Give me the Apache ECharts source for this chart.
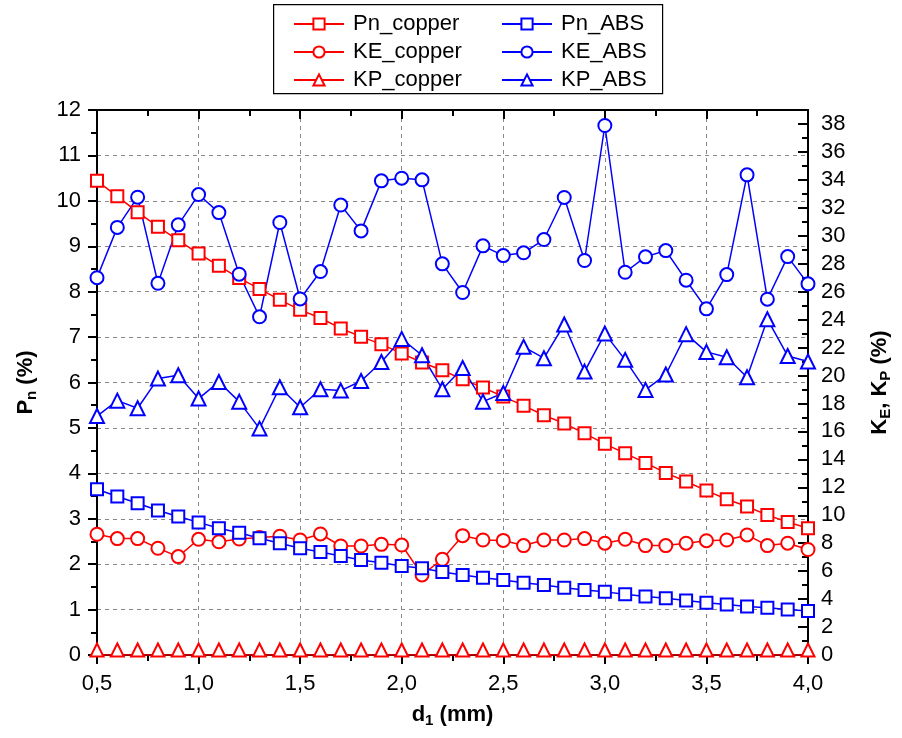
<!DOCTYPE html>
<html>
<head>
<meta charset="utf-8">
<script src="https://cdn.jsdelivr.net/npm/echarts@6/dist/echarts.min.js"></script>
<style>
html,body{margin:0;padding:0;background:#fff;}
#chart{width:902px;height:738px;}
</style>
</head>
<body>
<div id="chart"></div>
<script>
var dValues = [0.5,0.6,0.7,0.8,0.9,1.0,1.1,1.2,1.3,1.4,1.5,1.6,1.7,1.8,1.9,2.0,2.1,2.2,2.3,2.4,2.5,2.6,2.7,2.8,2.9,3.0,3.1,3.2,3.3,3.4,3.5,3.6,3.7,3.8,3.9,4.0];

var pnCopper = [10.44,10.10,9.75,9.43,9.13,8.84,8.57,8.30,8.06,7.82,7.60,7.42,7.19,7.01,6.84,6.64,6.44,6.27,6.07,5.89,5.69,5.49,5.28,5.10,4.88,4.65,4.44,4.23,4.01,3.82,3.62,3.43,3.27,3.08,2.93,2.79];
var keCopper = [8.64,8.33,8.33,7.64,7.04,8.28,8.10,8.30,8.40,8.50,8.23,8.66,7.80,7.80,7.92,7.87,5.73,6.85,8.54,8.23,8.20,7.83,8.23,8.23,8.33,8.00,8.28,7.83,7.83,8.00,8.18,8.23,8.59,7.83,8.00,7.55];
var kpCopper = [0,0,0,0,0,0,0,0,0,0,0,0,0,0,0,0,0,0,0,0,0,0,0,0,0,0,0,0,0,0,0,0,0,0,0,0];
var pnABS = [3.65,3.49,3.34,3.18,3.05,2.92,2.79,2.69,2.57,2.46,2.35,2.27,2.18,2.09,2.03,1.96,1.91,1.83,1.76,1.70,1.65,1.59,1.54,1.48,1.43,1.39,1.34,1.29,1.25,1.20,1.15,1.11,1.07,1.04,1.00,0.97];
var keABS = [27.0,30.6,32.76,26.6,30.78,32.95,31.66,27.25,24.2,30.95,25.48,27.44,32.2,30.35,33.93,34.12,34.0,27.99,25.94,29.28,28.58,28.78,29.73,32.74,28.23,37.89,27.39,28.49,28.94,26.82,24.77,27.22,34.36,25.46,28.51,26.56];
var kpABS = [17.1,18.2,17.66,19.78,20.02,18.35,19.54,18.13,16.2,19.16,17.73,19.02,18.92,19.61,20.97,22.62,21.45,19.02,20.54,18.13,18.75,22.05,21.24,23.65,20.28,23.0,21.12,18.97,20.07,22.96,21.69,21.31,19.88,24.03,21.4,21.0];

var FONT = "'Liberation Sans', Arial, sans-serif";
var RED = '#ff0000', BLUE = '#0000ff';

function pairs(ys){ return dValues.map(function(x,i){ return [x, ys[i]]; }); }

function mk(name, ys, color, symbol, size, yIdx, extra){
  var s = {
    name: name, type: 'line', xAxisIndex: 0, yAxisIndex: yIdx,
    data: pairs(ys), symbol: symbol, symbolSize: size, showAllSymbol: true,
    lineStyle: {color: color, width: 1.5},
    itemStyle: {color: color, borderColor: color, borderWidth: 1.3},
    emphasis: {disabled: true}, clip: true, z: 3
  };
  if (extra) for (var k in extra) s[k] = extra[k];
  return s;
}

var chart = echarts.init(document.getElementById('chart'), null, {renderer: 'canvas'});
var legendCommon = {
  orient: 'vertical', top: 13, itemWidth: 50, itemHeight: 14, itemGap: 6, padding: 0,
  textStyle: {fontFamily: FONT, fontSize: 22, color: '#000', padding: [0,0,0,4]},
  selectedMode: false
};
var gridDash = {show: true, lineStyle: {color: '#888', type: [4,4], width: 1}};
var axisBlack = {show: true, onZero: false, lineStyle: {color: '#000', width: 2}};
var titleRich = {
  b: {fontFamily: FONT, fontSize: 22, fontWeight: 'bold', color: '#000'},
  sub: {fontFamily: FONT, fontSize: 15, fontWeight: 'bold', color: '#000', padding: [12,0,0,0]}
};

var option = {
  backgroundColor: '#fff',
  animation: false,
  textStyle: {fontFamily: FONT},
  grid: {left: 97, right: 94, top: 110, bottom: 83, containLabel: false, outerBoundsMode: 'none'},
  legend: [
    Object.assign({left: 293, data: ['Pn_copper','KE_copper','KP_copper']}, legendCommon),
    Object.assign({left: 501, data: ['Pn_ABS','KE_ABS','KP_ABS']}, legendCommon)
  ],
  graphic: [{
    type: 'rect', left: 273, top: 4, z: -1,
    shape: {width: 389, height: 89},
    style: {fill: '#fff', stroke: '#000', lineWidth: 1.2}
  }],
  xAxis: [{
    type: 'value', position: 'bottom', min: 0.5, max: 4.0, interval: 0.5,
    axisLine: axisBlack,
    axisTick: {show: true, inside: false, length: 9, lineStyle: {color: '#000', width: 2}},
    minorTick: {show: true, splitNumber: 2, length: 6, lineStyle: {color: '#000', width: 2}},
    splitLine: gridDash,
    axisLabel: {fontFamily: FONT, fontSize: 22, color: '#000', margin: 18,
      formatter: function(v){ return v.toFixed(1).replace('.', ','); }},
    name: '{b|d}{sub|1}{b| (mm)}', nameLocation: 'middle', nameGap: 46,
    nameTextStyle: {rich: titleRich}
  }, {
    type: 'value', position: 'top', min: 0.5, max: 4.0, interval: 0.5,
    axisLine: axisBlack,
    axisTick: {show: true, inside: true, length: 9, lineStyle: {color: '#000', width: 2}},
    minorTick: {show: true, splitNumber: 2, length: 6, lineStyle: {color: '#000', width: 2}},
    splitLine: {show: false}, axisLabel: {show: false}
  }],
  yAxis: [{
    type: 'value', position: 'left', min: 0, max: 12, interval: 1,
    axisLine: axisBlack,
    axisTick: {show: true, inside: false, length: 9, lineStyle: {color: '#000', width: 2}},
    minorTick: {show: true, splitNumber: 2, length: 6, lineStyle: {color: '#000', width: 2}},
    splitLine: gridDash,
    axisLabel: {fontFamily: FONT, fontSize: 22, color: '#000', margin: 16},
    name: '{b|P}{sub|n}{b| (%)}', nameLocation: 'middle', nameGap: 58, nameRotate: 90,
    nameTextStyle: {rich: titleRich}
  }, {
    type: 'value', position: 'right', min: 0, max: 39, interval: 2,
    axisLine: axisBlack,
    axisTick: {show: true, inside: true, length: 10, lineStyle: {color: '#000', width: 2}},
    minorTick: {show: true, splitNumber: 2, length: 6, lineStyle: {color: '#000', width: 2}},
    splitLine: {show: false},
    axisLabel: {fontFamily: FONT, fontSize: 22, color: '#000', margin: 13, showMaxLabel: false},
    name: '{b|K}{sub|E}{b|, K}{sub|P}{b| (%)}', nameLocation: 'middle', nameGap: 58, nameRotate: 90,
    nameTextStyle: {rich: titleRich}
  }],
  series: [
    mk('Pn_copper', pnCopper, RED, 'emptyRect', 12, 0),
    mk('KE_copper', keCopper, RED, 'emptyCircle', 13, 1),
    mk('KP_copper', kpCopper, RED, 'emptyTriangle', 13, 1, {symbolOffset: [0, -5]}),
    mk('Pn_ABS', pnABS, BLUE, 'emptyRect', 12, 0),
    mk('KE_ABS', keABS, BLUE, 'emptyCircle', 13, 1),
    mk('KP_ABS', kpABS, BLUE, 'emptyTriangle', 14, 1)
  ]
};
chart.setOption(option);
</script>
</body>
</html>
